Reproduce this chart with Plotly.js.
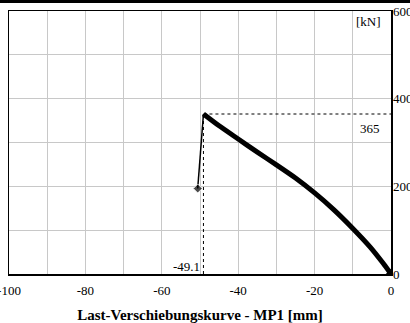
<!DOCTYPE html>
<html>
<head>
<meta charset="utf-8">
<script src="https://cdn.plot.ly/plotly-3.0.1.min.js"></script>
<style>
html,body{margin:0;padding:0;background:#fff;}
#chart{width:410px;height:323px;}
</style>
</head>
<body>
<div id="chart"></div>
<script>
// Main load-displacement curve (mm, kN)
var curveX = [0, -2.1, -5.5, -10, -15, -20, -25, -30, -35, -40, -45, -49.1];
var curveY = [0, 25, 62, 104, 147, 185, 219, 249, 278, 308, 338, 365];
// Drop after peak
var dropX = [-49.1, -50.6];
var dropY = [365, 195];
// Peak reference lines
var peakX = -49.1;
var peakY = 365;
var hLineX = [peakX, 0];
var hLineY = [peakY, peakY];
var vLineX = [peakX, peakX];
var vLineY = [0, peakY];
var xTicks = [-100, -80, -60, -40, -20, 0];
var yTicks = [0, 200, 400, 600];
var xLabel = "Last-Verschiebungskurve - MP1 [mm]";
var yUnit = "[kN]";

var font = "Liberation Serif";

var traces = [
  {x: hLineX, y: hLineY, mode: "lines", line: {color: "#000", width: 1, dash: "dot"}, hoverinfo: "skip"},
  {x: vLineX, y: vLineY, mode: "lines", line: {color: "#000", width: 1, dash: "dot"}, hoverinfo: "skip"},
  {x: dropX, y: dropY, mode: "lines+markers", line: {color: "#000", width: 1.5},
   marker: {symbol: "diamond", size: [0, 7], color: "#000"}},
  {x: curveX, y: curveY, mode: "lines", line: {color: "#000", width: 5, shape: "spline", smoothing: 0.6}},
  {x: [curveX[0]], y: [curveY[0]], mode: "markers", marker: {symbol: "diamond", size: 8, color: "#000"}}
];

var layout = {
  width: 410, height: 323,
  margin: {l: 9, r: 19, t: 11, b: 49},
  showlegend: false,
  paper_bgcolor: "#fff", plot_bgcolor: "#fff",
  font: {family: font, size: 12, color: "#000"},
  xaxis: {
    range: [-100, 0], tickvals: xTicks, ticktext: xTicks.map(String),
    showgrid: true, gridcolor: "#c8c8c8", gridwidth: 1,
    minor: {dtick: 10, tick0: 0, showgrid: true, gridcolor: "#c8c8c8", gridwidth: 1},
    zeroline: false, showline: true, linecolor: "#000", linewidth: 1.5, mirror: true,
    ticks: "", ticklen: 0, ticklabeloverflow: "allow", ticklabelstandoff: 4,
    tickfont: {family: font, size: 13, color: "#000"},
    title: {text: xLabel, font: {family: font, size: 15, color: "#000", weight: "bold"}, standoff: 14}
  },
  yaxis: {
    range: [0, 600], side: "right", tickvals: yTicks, ticktext: yTicks.map(String),
    showgrid: true, gridcolor: "#c8c8c8", gridwidth: 1,
    minor: {dtick: 100, tick0: 0, showgrid: true, gridcolor: "#c8c8c8", gridwidth: 1},
    zeroline: false, showline: true, linecolor: "#000", linewidth: 1.5, mirror: true,
    ticks: "", ticklen: 0, ticklabeloverflow: "allow", ticklabelstandoff: -2,
    tickfont: {family: font, size: 13, color: "#000"}
  },
  annotations: [
    {x: -2.3, y: 332, xref: "x", yref: "y", text: String(peakY), showarrow: false, xanchor: "right", yanchor: "middle",
     font: {family: font, size: 13, color: "#000"}},
    {x: peakX - 0.4, y: 18, xref: "x", yref: "y", text: String(peakX), showarrow: false, xanchor: "right", yanchor: "middle",
     font: {family: font, size: 13, color: "#000"}},
    {x: -2.0, y: 577, xref: "x", yref: "y", text: yUnit, showarrow: false, xanchor: "right", yanchor: "middle",
     font: {family: font, size: 13, color: "#000"}}
  ],
  shapes: [
    {type: "rect", xref: "paper", yref: "paper", x0: -0.1, x1: 1.1, y0: 1 + 8/263, y1: 1 + 12/263,
     fillcolor: "#000", line: {width: 0}}
  ]
};

Plotly.newPlot("chart", traces, layout, {displayModeBar: false, staticPlot: true});
</script>
</body>
</html>
